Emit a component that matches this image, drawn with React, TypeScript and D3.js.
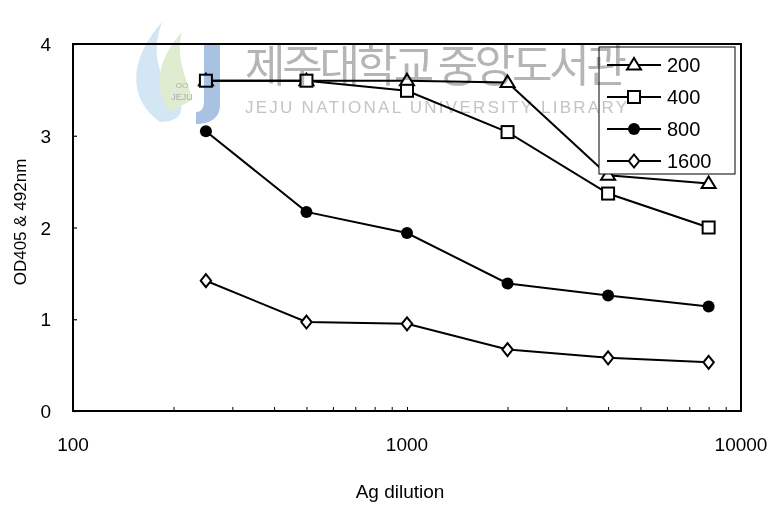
import React, { useEffect, useRef } from "react";
import * as d3 from "d3";

const dilutions = [250, 500, 1000, 2000, 4000, 8000];
const s200 = [3.6, 3.6, 3.6, 3.58, 2.57, 2.48];
const s400 = [3.6, 3.6, 3.49, 3.04, 2.37, 2.0];
const s800 = [3.05, 2.17, 1.94, 1.39, 1.26, 1.14];
const s1600 = [1.42, 0.97, 0.95, 0.67, 0.58, 0.53];
const seriesNames = ["200", "400", "800", "1600"];
const xTicks = [100, 1000, 10000];
const yTicks = [0, 1, 2, 3, 4];

const W = 781;
const H = 510;
const FONT = "Arial, 'Liberation Sans', sans-serif";

const drawMarker = (g, kind, x, y) => {
  if (kind === "200") {
    const s = 7;
    g.append("path")
      .attr("d", `M${x},${y - s} L${x + s},${y + s * 0.65} L${x - s},${y + s * 0.65} Z`)
      .attr("fill", "#fff")
      .attr("stroke", "#000")
      .attr("stroke-width", 2);
  } else if (kind === "400") {
    g.append("rect")
      .attr("x", x - 6)
      .attr("y", y - 6)
      .attr("width", 12)
      .attr("height", 12)
      .attr("fill", "#fff")
      .attr("stroke", "#000")
      .attr("stroke-width", 2);
  } else if (kind === "800") {
    g.append("circle").attr("cx", x).attr("cy", y).attr("r", 6).attr("fill", "#000");
  } else {
    const s = 6.5;
    g.append("path")
      .attr("d", `M${x},${y - s} L${x + s * 0.8},${y} L${x},${y + s} L${x - s * 0.8},${y} Z`)
      .attr("fill", "#fff")
      .attr("stroke", "#000")
      .attr("stroke-width", 2);
  }
};

const App = () => {
  const ref = useRef(null);

  useEffect(() => {
    d3.select(ref.current).selectAll("*").remove();

    const margin = { top: 44, right: 40, bottom: 99, left: 73 };

    const svg = d3
      .select(ref.current)
      .append("svg")
      .attr("width", W)
      .attr("height", H)
      .style("display", "block")
      .style("font-family", FONT);

    svg.append("rect").attr("width", W).attr("height", H).attr("fill", "#fff");

    const x = d3.scaleLog().domain([100, 10000]).range([margin.left, W - margin.right]);
    const y = d3.scaleLinear().domain([0, 4]).range([H - margin.bottom, margin.top]);

    // frame
    svg.append("rect")
      .attr("x", margin.left)
      .attr("y", margin.top)
      .attr("width", W - margin.right - margin.left)
      .attr("height", H - margin.bottom - margin.top)
      .attr("fill", "none")
      .attr("stroke", "#000")
      .attr("stroke-width", 2);

    // y axis ticks (inward)
    const yAxis = svg.append("g").attr("transform", `translate(${margin.left},0)`)
      .call(d3.axisRight(y).tickValues(yTicks).tickSize(4).tickFormat(() => ""));
    yAxis.select(".domain").remove();
    yAxis.selectAll("line").attr("stroke-width", 1.2);
    svg.selectAll(".ylab")
      .data(yTicks)
      .enter()
      .append("text")
      .attr("x", margin.left - 22)
      .attr("y", (d) => y(d) + 7)
      .attr("text-anchor", "end")
      .attr("font-size", 19)
      .text((d) => d);

    // x axis minor ticks (inward)
    const minor = [];
    for (let dec = 100; dec < 10000; dec *= 10) {
      for (let k = 1; k < 10; k++) minor.push(dec * k);
    }
    minor.push(10000);
    const xAxis = svg.append("g").attr("transform", `translate(0,${H - margin.bottom})`)
      .call(d3.axisTop(x).tickValues(minor).tickSize(4).tickFormat(() => ""));
    xAxis.select(".domain").remove();
    xAxis.selectAll("line").attr("stroke-width", 1);

    svg.selectAll(".xlab")
      .data(xTicks)
      .enter()
      .append("text")
      .attr("x", (d) => x(d))
      .attr("y", H - margin.bottom + 40)
      .attr("text-anchor", "middle")
      .attr("font-size", 19)
      .text((d) => d);

    svg.append("text")
      .attr("x", 400)
      .attr("y", 498)
      .attr("text-anchor", "middle")
      .attr("font-size", 19)
      .text("Ag dilution");

    svg.append("text")
      .attr("transform", `translate(26,222) rotate(-90)`)
      .attr("text-anchor", "middle")
      .attr("font-size", 17)
      .text("OD405 & 492nm");

    const series = [s200, s400, s800, s1600];
    const line = d3.line().x((d) => x(d[0])).y((d) => y(d[1]));

    // draw in this order so the 400 squares sit on top of the 200 triangles
    [3, 2, 0, 1].forEach((i) => {
      const pts = dilutions.map((dv, j) => [dv, series[i][j]]);
      const g = svg.append("g");
      g.append("path")
        .datum(pts)
        .attr("fill", "none")
        .attr("stroke", "#000")
        .attr("stroke-width", 2)
        .attr("d", line);
      pts.forEach((p) => drawMarker(g, seriesNames[i], x(p[0]), y(p[1])));
    });

    // legend
    const lg = svg.append("g").attr("transform", "translate(599,47)");
    lg.append("rect")
      .attr("width", 136)
      .attr("height", 127)
      .attr("fill", "#fff")
      .attr("stroke", "#000")
      .attr("stroke-width", 1);
    seriesNames.forEach((name, i) => {
      const cy = 18 + i * 32;
      lg.append("line")
        .attr("x1", 8)
        .attr("x2", 62)
        .attr("y1", cy)
        .attr("y2", cy)
        .attr("stroke", "#000")
        .attr("stroke-width", 2);
      drawMarker(lg, name, 35, cy);
      lg.append("text")
        .attr("x", 68)
        .attr("y", cy + 7)
        .attr("font-size", 20)
        .text(name);
    });

    // library watermark stamped over the scan
    const wm = svg.append("g").style("mix-blend-mode", "multiply");
    wm.append("path")
      .attr("d", "M160,122 C128,100 128,60 162,22 C150,55 160,78 175,95 C188,110 180,122 160,122 Z")
      .attr("fill", "#d3e6f3");
    wm.append("path")
      .attr("d", "M170,112 C152,88 158,58 182,32 C174,62 190,82 192,100 Z")
      .attr("fill", "#dfeccf");
    wm.append("path")
      .attr("d", "M204,44 L220,44 L220,105 C220,118 210,124 196,124 L196,112 C202,112 204,108 204,100 Z")
      .attr("fill", "#a9c1e2");
    wm.append("text").attr("x", 182).attr("y", 88).attr("text-anchor", "middle")
      .attr("font-size", 8).attr("fill", "#b0b0b0").text("OO");
    wm.append("text").attr("x", 182).attr("y", 100).attr("text-anchor", "middle")
      .attr("font-size", 9).attr("fill", "#b0b0b0").text("JEJU");
    wm.append("text")
      .attr("x", 245)
      .attr("y", 82)
      .attr("font-size", 44)
      .attr("fill", "#b5b5b5")
      .attr("font-family", "'Noto Sans CJK KR', sans-serif")
      .attr("textLength", 382)
      .text("제주대학교 중앙도서관");
    wm.append("text")
      .attr("x", 245)
      .attr("y", 113)
      .attr("font-size", 17)
      .attr("fill", "#c4c4c4")
      .attr("textLength", 382)
      .text("JEJU NATIONAL UNIVERSITY LIBRARY");
  }, []);

  return <div ref={ref} style={{ margin: -8 }}></div>;
};

export default App;
